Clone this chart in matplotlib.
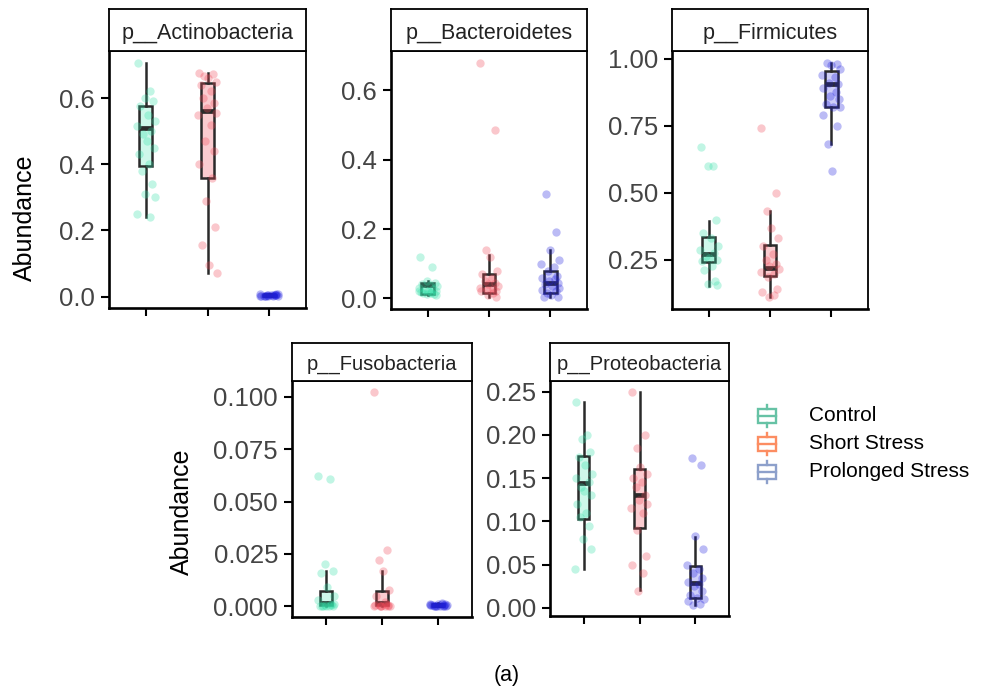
import matplotlib
matplotlib.use("Agg")
import matplotlib.pyplot as plt
from matplotlib.patches import Rectangle
from matplotlib.lines import Line2D

plt.rcParams['font.family'] = ['Liberation Sans', 'DejaVu Sans']

# ---------------- data ----------------
GROUPS = ["Control", "Short Stress", "Prolonged Stress"]

# Actinobacteria
act_ctrl = [0.707, 0.62, 0.60, 0.59, 0.575, 0.55, 0.53, 0.515, 0.50, 0.49,
            0.47, 0.45, 0.43, 0.40, 0.38, 0.34, 0.31, 0.30, 0.25, 0.24]
act_short = [0.675, 0.672, 0.668, 0.66, 0.65, 0.64, 0.62, 0.60, 0.585, 0.57,
             0.555, 0.55, 0.52, 0.47, 0.44, 0.40, 0.36, 0.29, 0.21, 0.155, 0.095, 0.07]
act_prol = [0.002, 0.004, 0.006, 0.003, 0.008, 0.001, 0.005, 0.007, 0.002,
            0.004, 0.003, 0.006, 0.001, 0.005, 0.009, 0.002, 0.004, 0.003]
# (q1, median, q3, whisker low, whisker high)
act_box = [(0.395, 0.51, 0.575, 0.24, 0.707),
           (0.36, 0.56, 0.645, 0.07, 0.675),
           (0.002, 0.004, 0.006, 0.001, 0.009)]

# Bacteroidetes
bac_ctrl = [0.12, 0.09, 0.05, 0.045, 0.04, 0.038, 0.035, 0.03, 0.028, 0.025,
            0.022, 0.02, 0.018, 0.016, 0.015, 0.013, 0.012, 0.01, 0.02, 0.017]
bac_short = [0.68, 0.485, 0.14, 0.12, 0.08, 0.07, 0.06, 0.05, 0.045, 0.04,
             0.035, 0.03, 0.028, 0.025, 0.022, 0.02, 0.015, 0.01, 0.005]
bac_prol = [0.30, 0.19, 0.14, 0.11, 0.10, 0.09, 0.08, 0.065, 0.06, 0.055, 0.05,
            0.045, 0.04, 0.035, 0.03, 0.025, 0.02, 0.015, 0.01, 0.005, 0.003]
bac_box = [(0.012, 0.037, 0.045, 0.01, 0.05),
           (0.016, 0.04, 0.069, 0.005, 0.124),
           (0.0145, 0.043, 0.079, 0.004, 0.14)]

# Firmicutes
fir_ctrl = [0.67, 0.60, 0.598, 0.40, 0.35, 0.33, 0.30, 0.285, 0.275, 0.265,
            0.255, 0.25, 0.245, 0.225, 0.21, 0.17, 0.16, 0.155]
fir_short = [0.74, 0.50, 0.43, 0.37, 0.33, 0.30, 0.27, 0.25, 0.235, 0.225,
             0.215, 0.205, 0.195, 0.185, 0.14, 0.13, 0.12, 0.11]
fir_prol = [0.985, 0.982, 0.975, 0.96, 0.94, 0.93, 0.91, 0.905, 0.89, 0.875,
            0.86, 0.85, 0.83, 0.82, 0.818, 0.79, 0.75, 0.68, 0.58]
fir_box = [(0.243, 0.271, 0.333, 0.153, 0.396),
           (0.19, 0.218, 0.306, 0.112, 0.43),
           (0.819, 0.907, 0.953, 0.68, 0.984)]

# Fusobacteria
fus_ctrl = [0.062, 0.061, 0.020, 0.017, 0.016, 0.009, 0.005, 0.003, 0.001, 0.0,
            0.0, 0.0, 0.0, 0.0, 0.0, 0.0005, 0.0005, 0.001]
fus_short = [0.1025, 0.027, 0.022, 0.017, 0.008, 0.005, 0.002, 0.001, 0.0, 0.0,
             0.0, 0.0, 0.0, 0.0, 0.0005, 0.0005, 0.001, 0.0]
fus_prol = [0.0, 0.0005, 0.001, 0.0002, 0.0008, 0.0015, 0.0, 0.0003, 0.0006,
            0.001, 0.0002, 0.0012, 0.0004, 0.0, 0.0007, 0.0009, 0.0003, 0.0]
fus_box = [(0.0005, 0.0015, 0.0075, 0.0, 0.0168),
           (0.0005, 0.0015, 0.0075, 0.0, 0.017),
           (0.0002, 0.0005, 0.0009, 0.0, 0.0015)]

# Proteobacteria
pro_ctrl = [0.238, 0.20, 0.195, 0.18, 0.175, 0.165, 0.155, 0.15, 0.145, 0.14,
            0.135, 0.13, 0.12, 0.11, 0.105, 0.095, 0.08, 0.068, 0.045]
pro_short = [0.25, 0.20, 0.185, 0.163, 0.155, 0.15, 0.145, 0.14, 0.13, 0.125,
             0.12, 0.115, 0.11, 0.09, 0.06, 0.05, 0.04, 0.02]
pro_prol = [0.173, 0.165, 0.083, 0.068, 0.05, 0.045, 0.04, 0.035, 0.03, 0.028,
            0.025, 0.02, 0.015, 0.012, 0.01, 0.008, 0.005, 0.003]
pro_box = [(0.103, 0.144, 0.176, 0.045, 0.238),
           (0.092, 0.131, 0.161, 0.021, 0.25),
           (0.0115, 0.029, 0.048, 0.003, 0.082)]

PANELS = [
    dict(title="p__Actinobacteria", pts=[act_ctrl, act_short, act_prol], box=act_box,
         yticks=[0.0, 0.2, 0.4, 0.6], fmt="{:.1f}"),
    dict(title="p__Bacteroidetes", pts=[bac_ctrl, bac_short, bac_prol], box=bac_box,
         yticks=[0.0, 0.2, 0.4, 0.6], fmt="{:.1f}"),
    dict(title="p__Firmicutes", pts=[fir_ctrl, fir_short, fir_prol], box=fir_box,
         yticks=[0.25, 0.50, 0.75, 1.00], fmt="{:.2f}"),
    dict(title="p__Fusobacteria", pts=[fus_ctrl, fus_short, fus_prol], box=fus_box,
         yticks=[0.0, 0.025, 0.05, 0.075, 0.1], fmt="{:.3f}"),
    dict(title="p__Proteobacteria", pts=[pro_ctrl, pro_short, pro_prol], box=pro_box,
         yticks=[0.0, 0.05, 0.10, 0.15, 0.20, 0.25], fmt="{:.2f}"),
]

# ---------------- styling ----------------
W, H = 981, 697
PT_COLORS = ["#33E0A8", "#F04858", "#2020E0"]
BOX_ALPHA = [0.24, 0.28, 0.22]
KEY_COLORS = ["#66C2A5", "#FC8D62", "#8DA0CB"]
EDGE = "#2a2a2a"
TICK_COLOR = "#444444"
JITTER = [-0.13, 0.07, -0.02, 0.12, -0.09, 0.03, 0.15, -0.14, 0.09, -0.05, 0.01,
          0.13, -0.11, 0.05, -0.07, 0.10, -0.01, 0.14, -0.15, 0.06, -0.04, 0.11]

# panel boxes in pixels: (left, panel_top, right, bottom, strip_top, strip font, label baseline)
LAYOUT = [
    (109, 51, 306, 308, 9, 15.5, 0.28),
    (391, 51, 587, 309, 9, 15.5, 0.28),
    (672, 51, 868, 309, 9, 15.5, 0.28),
    (292, 381, 472, 617, 343, 14.5, 0.30),
    (550, 381, 729, 616, 343, 14.5, 0.30),
]

fig = plt.figure(figsize=(W / 100, H / 100), dpi=100)


def pad_limits(lo, hi, frac=0.05):
    span = hi - lo
    return lo - frac * span, hi + frac * span


for panel, (x0, y0, x1, y1, st, sfs, sbase) in zip(PANELS, LAYOUT):
    ax = fig.add_axes([x0 / W, 1 - y1 / H, (x1 - x0) / W, (y1 - y0) / H])
    all_vals = [v for g in panel["pts"] for v in g]
    for i, (pts, stat) in enumerate(zip(panel["pts"], panel["box"])):
        pos = i + 1
        q1, med, q3, lo, hi = stat
        bstats = dict(med=med, q1=q1, q3=q3, whislo=lo, whishi=hi, fliers=[])
        rgb = matplotlib.colors.to_rgb(PT_COLORS[i])
        ax.bxp([bstats], positions=[pos], widths=0.21, patch_artist=True,
               showfliers=False, showcaps=False,
               boxprops=dict(facecolor=(*rgb, BOX_ALPHA[i]), edgecolor=EDGE, linewidth=1.8),
               whiskerprops=dict(color=EDGE, linewidth=1.8),
               medianprops=dict(color=EDGE, linewidth=3.4, solid_capstyle="butt"))
        xs = [pos + JITTER[(k + 7 * i) % len(JITTER)] for k in range(len(pts))]
        ax.scatter(xs, pts, s=36, color=PT_COLORS[i], alpha=0.3, linewidths=0, zorder=3)

    ax.set_xlim(0.4, 3.6)
    ax.set_ylim(*pad_limits(min(all_vals), max(all_vals)))
    ax.set_xticks([1, 2, 3])
    ax.set_xticklabels([])
    ax.set_yticks(panel["yticks"])
    ax.set_yticklabels([panel["fmt"].format(t) for t in panel["yticks"]])
    ax.tick_params(axis="y", length=6, width=1.5, color="black", pad=4,
                   labelsize=18.5, labelcolor=TICK_COLOR)
    ax.tick_params(axis="x", length=6, width=1.5, color="black")
    for side, sp in ax.spines.items():
        sp.set_color("black")
        sp.set_linewidth(1.9 if side in ("left", "bottom") else 1.3)

    sax = fig.add_axes([x0 / W, 1 - y0 / H, (x1 - x0) / W, (y0 - st) / H])
    sax.set_xticks([])
    sax.set_yticks([])
    for sp in sax.spines.values():
        sp.set_linewidth(1.3)
        sp.set_color("black")
    sax.text(0.5, sbase, panel["title"], ha="center", va="baseline",
             fontsize=sfs, color="#222222", transform=sax.transAxes)

# y-axis titles
fig.text(25 / W, 1 - 218 / H, "Abundance", rotation=90, ha="center", va="center",
         fontsize=18, color="black")
fig.text(182 / W, 1 - 512 / H, "Abundance", rotation=90, ha="center", va="center",
         fontsize=18, color="black")

# panel tag
fig.text(507 / W, 1 - 676 / H, "(a)", ha="center", va="center", fontsize=15.5, color="black")

# legend drawn in a pixel-space overlay
lax = fig.add_axes([0, 0, 1, 1])
lax.set_xlim(0, W)
lax.set_ylim(H, 0)
lax.axis("off")
for i, (name, col) in enumerate(zip(GROUPS, KEY_COLORS)):
    cy = 415.5 + 28 * i
    cx = 767
    lax.add_patch(Rectangle((cx - 9, cy - 7), 18, 14, facecolor="white",
                            edgecolor=col, linewidth=1.7))
    lax.add_line(Line2D([cx - 9, cx + 9], [cy, cy], color=col, linewidth=1.7))
    lax.add_line(Line2D([cx, cx], [cy - 11, cy - 7], color=col, linewidth=1.7))
    lax.add_line(Line2D([cx, cx], [cy + 7, cy + 11], color=col, linewidth=1.7))
    lax.text(809, cy, name, ha="left", va="center", fontsize=15, color="black")

fig.savefig("out.png", dpi=100)
